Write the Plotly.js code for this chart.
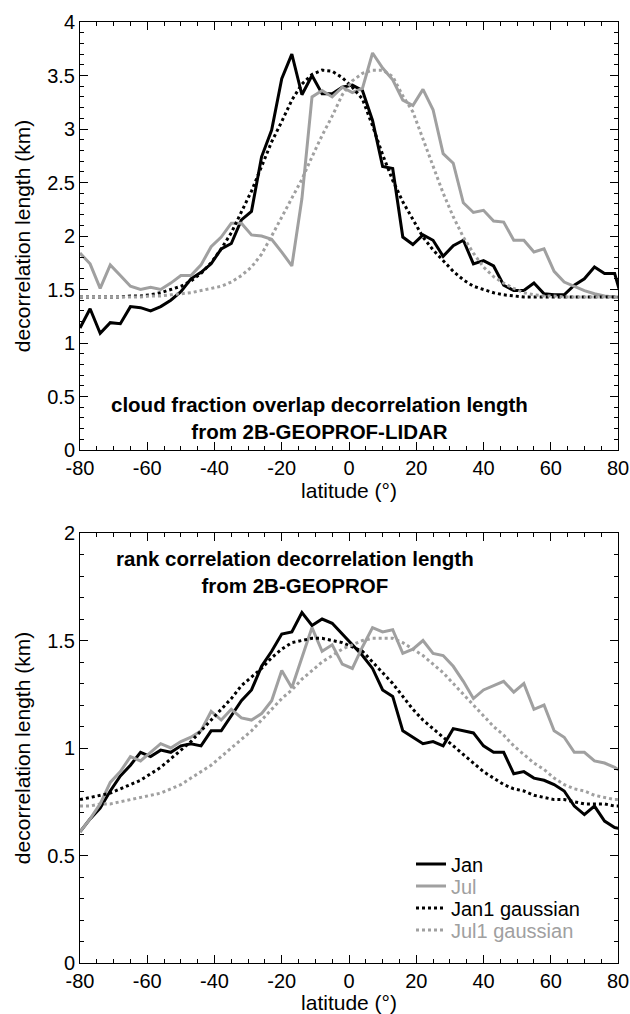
<!DOCTYPE html>
<html><head><meta charset="utf-8">
<script src="https://cdn.plot.ly/plotly-3.0.1.min.js"></script>
<style>html,body{margin:0;padding:0;background:#fff}</style>
</head>
<body>
<div id="chart" style="width:630px;height:1014px"></div>
<script>
// latitude grid (degrees)
const lat = [-80,-77,-74,-71,-68,-65,-62,-59,-56,-53,-50,-47,-44,-41,-38,-35,-32,-29,-26,-23,-20,-17,-14,-11,-8,-5,-2,1,4,7,10,13,16,19,22,25,28,31,34,37,40,43,46,49,52,55,58,61,64,67,70,73,76,79,82];

// top panel: cloud fraction overlap decorrelation length (km)
const topJan = [1.14,1.32,1.09,1.19,1.18,1.34,1.33,1.30,1.34,1.40,1.48,1.60,1.66,1.74,1.88,1.93,2.15,2.23,2.74,2.99,3.47,3.70,3.32,3.50,3.33,3.33,3.39,3.41,3.36,3.08,2.65,2.63,1.99,1.92,2.01,1.96,1.81,1.91,1.96,1.74,1.77,1.72,1.54,1.49,1.49,1.56,1.46,1.45,1.45,1.54,1.60,1.71,1.65,1.65,1.32];
const topJul = [1.84,1.74,1.51,1.73,1.63,1.53,1.50,1.52,1.50,1.56,1.63,1.63,1.73,1.90,1.99,2.12,2.12,2.01,2.00,1.97,1.85,1.72,2.35,3.30,3.36,3.30,3.39,3.34,3.38,3.71,3.57,3.46,3.27,3.22,3.37,3.18,2.77,2.68,2.31,2.22,2.24,2.14,2.13,1.96,1.96,1.85,1.88,1.67,1.57,1.53,1.49,1.46,1.44,1.43,1.42];
const topJanGauss = [1.43,1.43,1.43,1.43,1.43,1.44,1.44,1.45,1.47,1.50,1.53,1.58,1.65,1.75,1.88,2.03,2.22,2.42,2.65,2.88,3.07,3.27,3.42,3.51,3.55,3.54,3.48,3.39,3.28,3.03,2.76,2.52,2.32,2.15,1.99,1.87,1.77,1.67,1.59,1.53,1.50,1.47,1.45,1.44,1.43,1.43,1.43,1.43,1.43,1.43,1.43,1.43,1.43,1.43,1.43];
const topJulGauss = [1.43,1.43,1.43,1.43,1.43,1.43,1.43,1.44,1.44,1.45,1.46,1.47,1.49,1.51,1.53,1.57,1.63,1.71,1.83,2.00,2.18,2.36,2.53,2.74,2.94,3.12,3.32,3.45,3.52,3.55,3.55,3.49,3.31,3.16,2.91,2.66,2.40,2.18,1.99,1.84,1.71,1.62,1.56,1.51,1.47,1.45,1.44,1.44,1.43,1.43,1.43,1.43,1.43,1.43,1.43];

// bottom panel: rank correlation decorrelation length (km)
const botJan = [0.61,0.67,0.72,0.80,0.87,0.92,0.98,0.96,0.99,0.98,1.01,1.02,1.01,1.08,1.08,1.15,1.22,1.27,1.38,1.45,1.53,1.54,1.63,1.57,1.60,1.58,1.53,1.48,1.43,1.37,1.27,1.24,1.08,1.05,1.02,1.03,1.01,1.09,1.08,1.07,1.01,0.98,0.98,0.88,0.89,0.86,0.85,0.83,0.80,0.73,0.69,0.73,0.66,0.63,0.62];
const botJul = [0.61,0.67,0.74,0.84,0.89,0.96,0.94,0.98,1.02,1.00,1.03,1.05,1.08,1.17,1.13,1.18,1.14,1.13,1.16,1.22,1.36,1.28,1.42,1.56,1.45,1.48,1.39,1.37,1.47,1.56,1.54,1.55,1.44,1.46,1.50,1.44,1.43,1.38,1.31,1.23,1.27,1.29,1.31,1.26,1.30,1.18,1.20,1.08,1.05,0.98,0.98,0.94,0.93,0.91,0.88];
const botJanGauss = [0.76,0.77,0.78,0.79,0.81,0.83,0.85,0.88,0.91,0.95,0.99,1.03,1.08,1.13,1.18,1.23,1.29,1.33,1.37,1.42,1.46,1.49,1.50,1.51,1.51,1.50,1.49,1.47,1.45,1.40,1.35,1.30,1.24,1.18,1.13,1.09,1.05,1.01,0.97,0.93,0.89,0.86,0.83,0.81,0.80,0.78,0.77,0.76,0.76,0.75,0.74,0.74,0.74,0.73,0.73];
const botJulGauss = [0.73,0.73,0.74,0.74,0.75,0.76,0.77,0.78,0.79,0.81,0.83,0.86,0.89,0.92,0.96,1.00,1.04,1.08,1.13,1.18,1.23,1.27,1.32,1.36,1.40,1.43,1.46,1.48,1.50,1.51,1.51,1.51,1.49,1.46,1.43,1.39,1.35,1.30,1.25,1.20,1.15,1.10,1.06,1.01,0.97,0.93,0.90,0.86,0.83,0.81,0.80,0.78,0.77,0.76,0.76];

// tick labels
const xTickVals = [-80,-60,-40,-20,0,20,40,60,80];
const xTickText = ['-80','-60','-40','-20','0','20','40','60','80'];
const yTopTickVals = [0,0.5,1,1.5,2,2.5,3,3.5,4];
const yTopTickText = ['0','0.5','1','1.5','2','2.5','3','3.5','4'];
const yBotTickVals = [0,0.5,1,1.5,2];
const yBotTickText = ['0','0.5','1','1.5','2'];

const seriesNames = ['Jan','Jul','Jan1 gaussian','Jul1 gaussian'];
const BLACK = '#000000', GRAY = '#a0a0a0';
const FONT = 'Liberation Sans, Arial, sans-serif';
const FS = 20;
const legendIds = ['legend','legend2','legend3','legend4'];

function mk(y, i, xa, ya, showleg){
  const color = (i % 2 === 0) ? BLACK : GRAY;
  const dash = i < 2 ? 'solid' : '3px,3px';
  const nm = seriesNames[i];
  return {
    x: lat, y: y, type: 'scatter', mode: 'lines',
    xaxis: xa, yaxis: ya,
    name: color === GRAY ? '<span style="color:' + GRAY + '">' + nm + '</span>' : nm,
    line: {color: color, width: 3, dash: dash},
    showlegend: showleg, legend: legendIds[i], hoverinfo: 'skip'
  };
}

const data = [
  mk(topJan, 0, 'x', 'y', false),
  mk(topJul, 1, 'x', 'y', false),
  mk(topJanGauss, 2, 'x', 'y', false),
  mk(topJulGauss, 3, 'x', 'y', false),
  mk(botJan, 0, 'x2', 'y2', true),
  mk(botJul, 1, 'x2', 'y2', true),
  mk(botJanGauss, 2, 'x2', 'y2', true),
  mk(botJulGauss, 3, 'x2', 'y2', true)
];

function xax(anchor){
  return {
    anchor: anchor, domain: [0, 1], range: [-80, 80],
    tickmode: 'array', tickvals: xTickVals, ticktext: xTickText,
    ticks: 'inside', ticklen: 8, tickwidth: 1, tickcolor: '#000',
    showline: true, linecolor: '#000', linewidth: 1, mirror: 'ticks',
    showgrid: false, zeroline: false,
    minor: {tickmode: 'linear', tick0: 0, dtick: 5, ticks: 'inside', ticklen: 4, tickwidth: 1, tickcolor: '#000', showgrid: false},
    tickfont: {size: FS, color: '#000', family: FONT},
    title: {text: 'latitude (°)', font: {size: FS + 1, color: '#000', family: FONT}, standoff: 4}
  };
}
function yax(anchor, dom, rng, tv, tt){
  return {
    anchor: anchor, domain: dom, range: rng,
    tickmode: 'array', tickvals: tv, ticktext: tt,
    ticks: 'inside', ticklen: 8, tickwidth: 1, tickcolor: '#000',
    showline: true, linecolor: '#000', linewidth: 1, mirror: 'ticks',
    showgrid: false, zeroline: false,
    minor: {tickmode: 'linear', tick0: 0, dtick: 0.1, ticks: 'inside', ticklen: 4, tickwidth: 1, tickcolor: '#000', showgrid: false},
    tickfont: {size: FS, color: '#000', family: FONT},
    title: {text: 'decorrelation length (km)', font: {size: FS + 1, color: '#000', family: FONT}, standoff: 10}
  };
}

function leg(yc){
  return {x: (411 - 80)/538, y: 1 - yc/1014, xanchor: 'left', yanchor: 'middle',
          bgcolor: 'rgba(0,0,0,0)', borderwidth: 0,
          font: {size: FS, family: FONT, color: '#000'}, itemwidth: 30};
}

const layout = {
  width: 630, height: 1014,
  margin: {l: 80, r: 12, t: 0, b: 0},
  paper_bgcolor: '#fff', plot_bgcolor: '#fff',
  font: {family: FONT, size: FS, color: '#000'},
  xaxis: xax('y'),
  yaxis: yax('x', [1 - 450/1014, 1 - 22/1014], [0, 4], yTopTickVals, yTopTickText),
  xaxis2: xax('y2'),
  yaxis2: yax('x2', [1 - 963/1014, 1 - 533/1014], [0, 2], yBotTickVals, yBotTickText),
  showlegend: true,
  legend: leg(864),
  legend2: leg(886),
  legend3: leg(908),
  legend4: leg(930),
  annotations: [
    {xref: 'x', yref: 'y', x: -8.8, y: 0.30, showarrow: false, align: 'center',
     text: '<b>cloud fraction overlap decorrelation length<br>from 2B-GEOPROF-LIDAR</b>',
     font: {size: 20.5, family: FONT, color: '#000'}},
    {xref: 'x2', yref: 'y2', x: -16, y: 1.82, showarrow: false, align: 'center',
     text: '<b>rank correlation decorrelation length<br>from 2B-GEOPROF</b>',
     font: {size: 20.5, family: FONT, color: '#000'}}
  ]
};

Plotly.newPlot('chart', data, layout, {staticPlot: true, displayModeBar: false});
</script>
</body></html>
